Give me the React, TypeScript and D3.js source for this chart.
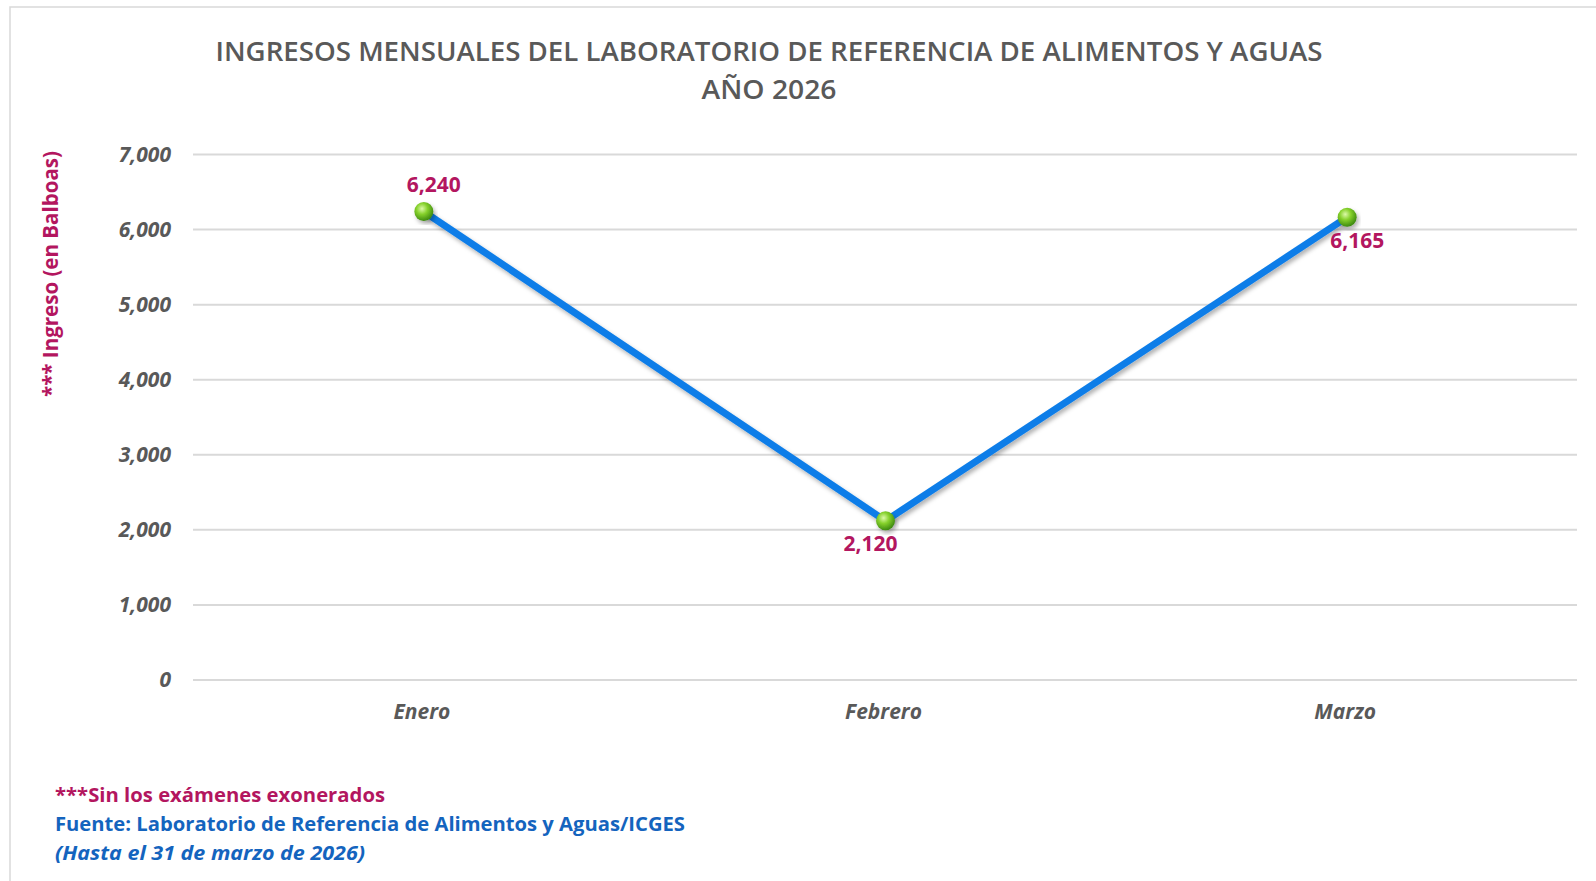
import React, { useRef, useEffect } from 'react';
import * as d3 from 'd3';

const months = ['Enero', 'Febrero', 'Marzo'];
const ingresos = [6240, 2120, 6165];
const yTicks = [0, 1000, 2000, 3000, 4000, 5000, 6000, 7000];
// label placement relative to each point (above / below)
const labelPos = ['above', 'below', 'below'];
const labelShift = [10, -15, 10];

const titleLines = [
  'INGRESOS MENSUALES DEL LABORATORIO DE REFERENCIA DE ALIMENTOS Y AGUAS',
  'AÑO 2026',
];
const yTitle = '*** Ingreso (en Balboas)';
const notes = [
  '***Sin los exámenes exonerados',
  'Fuente: Laboratorio de Referencia de Alimentos y Aguas/ICGES',
  '(Hasta el 31 de marzo de 2026)',
];

const FONT = '"Open Sans", "Noto Sans", sans-serif';
const GREY = '#595959';
const MAGENTA = '#B3165F';
const BLUE = '#1464BE';

const App: React.FC = () => {
  const svgRef = useRef<SVGSVGElement | null>(null);

  useEffect(() => {
    document.body.style.margin = '0';
    const width = 1596;
    const height = 881;
    const plot = { left: 193, right: 1578, top: 154.5, bottom: 680 };

    const svg = d3.select(svgRef.current);
    svg.selectAll('*').remove();
    svg.attr('width', width).attr('height', height).style('display', 'block').style('background', '#fff');

    const defs = svg.append('defs');
    const grad = defs
      .append('radialGradient')
      .attr('id', 'ball')
      .attr('cx', '40%')
      .attr('cy', '35%')
      .attr('r', '65%');
    grad.append('stop').attr('offset', '0%').attr('stop-color', '#dcf9a8');
    grad.append('stop').attr('offset', '45%').attr('stop-color', '#86d12c');
    grad.append('stop').attr('offset', '100%').attr('stop-color', '#3e8a10');

    const shadow = defs.append('filter').attr('id', 'shadow').attr('x', '-10%').attr('y', '-10%').attr('width', '130%').attr('height', '130%');
    shadow
      .append('feDropShadow')
      .attr('dx', 2)
      .attr('dy', 3)
      .attr('stdDeviation', 2)
      .attr('flood-color', '#000')
      .attr('flood-opacity', 0.3);

    // chart frame
    svg
      .append('rect')
      .attr('x', 10)
      .attr('y', 7)
      .attr('width', 1620)
      .attr('height', 900)
      .attr('fill', 'none')
      .attr('stroke', '#D9D9D9')
      .attr('stroke-width', 1.5);

    const x = d3.scaleBand<string>().domain(months).range([plot.left, plot.right]);
    const y = d3.scaleLinear().domain([0, 7000]).range([plot.bottom, plot.top]);
    const cx = (m: string) => x(m)! + x.bandwidth() / 2;

    // title
    const titleY = [52, 90];
    const titleLen = [1107, 135];
    svg
      .selectAll('text.title')
      .data(titleLines)
      .enter()
      .append('text')
      .attr('class', 'title')
      .attr('x', 769)
      .attr('y', (_, i) => titleY[i])
      .attr('dy', '0.35em')
      .attr('text-anchor', 'middle')
      .attr('textLength', (_, i) => titleLen[i])
      .attr('lengthAdjust', 'spacingAndGlyphs')
      .style('font-family', FONT)
      .style('font-size', '27px')
      .style('font-weight', 600)
      .style('fill', GREY)
      .text((d) => d);

    // gridlines
    svg
      .append('g')
      .selectAll('line')
      .data(yTicks)
      .enter()
      .append('line')
      .attr('x1', plot.left)
      .attr('x2', plot.right - 1)
      .attr('y1', (d) => y(d))
      .attr('y2', (d) => y(d))
      .attr('stroke', '#D9D9D9')
      .attr('stroke-width', 2);

    // y tick labels
    svg
      .append('g')
      .selectAll('text')
      .data(yTicks)
      .enter()
      .append('text')
      .attr('x', 171)
      .attr('y', (d) => y(d))
      .attr('dy', '0.35em')
      .attr('text-anchor', 'end')
      .style('font-family', FONT)
      .style('font-size', '21px')
      .style('font-weight', 700)
      .style('font-style', 'italic')
      .style('fill', GREY)
      .text((d) => d3.format(',')(d));

    // x labels
    svg
      .append('g')
      .selectAll('text')
      .data(months)
      .enter()
      .append('text')
      .attr('x', (d) => cx(d) - 2)
      .attr('y', 712)
      .attr('dy', '0.35em')
      .attr('text-anchor', 'middle')
      .style('font-family', FONT)
      .style('font-size', '21px')
      .style('font-weight', 700)
      .style('font-style', 'italic')
      .style('fill', GREY)
      .text((d) => d);

    // y axis title
    svg
      .append('text')
      .attr('transform', 'translate(51,274) rotate(-90)')
      .attr('dy', '0.35em')
      .attr('text-anchor', 'middle')
      .attr('textLength', 246)
      .attr('lengthAdjust', 'spacingAndGlyphs')
      .style('font-family', FONT)
      .style('font-size', '21px')
      .style('font-weight', 700)
      .style('fill', MAGENTA)
      .text(yTitle);

    // line
    const line = d3
      .line<number>()
      .x((_, i) => cx(months[i]))
      .y((d) => y(d));

    svg
      .append('path')
      .datum(ingresos)
      .attr('d', line)
      .attr('fill', 'none')
      .attr('stroke', '#0B7DE8')
      .attr('stroke-width', 7)
      .attr('stroke-linejoin', 'round')
      .attr('filter', 'url(#shadow)');

    // markers
    svg
      .append('g')
      .selectAll('circle')
      .data(ingresos)
      .enter()
      .append('circle')
      .attr('cx', (_, i) => cx(months[i]))
      .attr('cy', (d) => y(d))
      .attr('r', 9.5)
      .attr('fill', 'url(#ball)')
      .attr('filter', 'url(#shadow)');

    // data labels
    svg
      .append('g')
      .selectAll('text')
      .data(ingresos)
      .enter()
      .append('text')
      .attr('x', (_, i) => cx(months[i]) + labelShift[i])
      .attr('y', (d, i) => y(d) + (labelPos[i] === 'above' ? -27 : 23))
      .attr('dy', '0.35em')
      .attr('text-anchor', 'middle')
      .style('font-family', FONT)
      .style('font-size', '21px')
      .style('font-weight', 700)
      .style('fill', MAGENTA)
      .text((d) => d3.format(',')(d));

    // footnotes
    const noteY = [795, 824, 853];
    const noteLen = [330, 630, 310];
    const noteColor = [MAGENTA, BLUE, BLUE];
    svg
      .append('g')
      .selectAll('text')
      .data(notes)
      .enter()
      .append('text')
      .attr('x', 55)
      .attr('y', (_, i) => noteY[i])
      .attr('dy', '0.35em')
      .attr('textLength', (_, i) => noteLen[i])
      .attr('lengthAdjust', 'spacingAndGlyphs')
      .style('font-family', FONT)
      .style('font-size', '20px')
      .style('font-weight', 700)
      .style('font-style', (_, i) => (i === 2 ? 'italic' : 'normal'))
      .style('fill', (_, i) => noteColor[i])
      .text((d) => d);
  }, []);

  return <svg ref={svgRef}></svg>;
};

export default App;
